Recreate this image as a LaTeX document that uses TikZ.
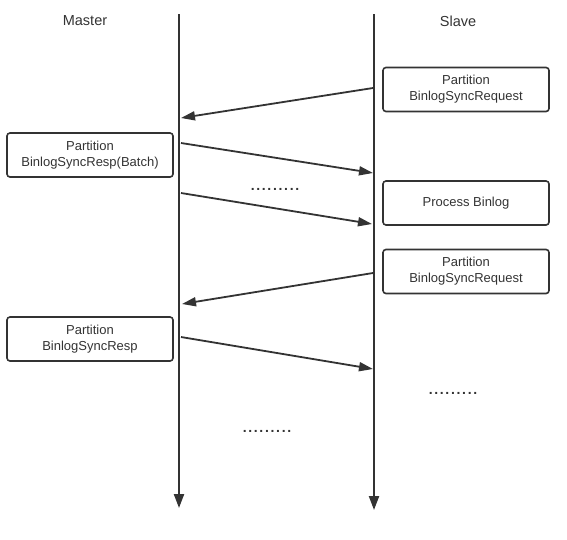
\documentclass[tikz,border=0pt]{standalone}
\usepackage{fontspec}
\setmainfont{Liberation Sans}
\newfontfamily\spacedfont[LetterSpace=12]{Liberation Sans}
\usetikzlibrary{arrows.meta}
\definecolor{ink}{HTML}{333333}

\begin{document}
\begin{tikzpicture}[x=1pt,y=-1pt,
    box/.style={draw=ink,line width=1.6pt,rounded corners=3pt,minimum width=166pt,
      minimum height=44pt,align=center,text=ink,font=\fontsize{13}{16}\selectfont},
    title/.style={text=ink,font=\fontsize{14.5}{17}\selectfont},
    etc/.style={text=ink,font={\fontsize{14}{16}\spacedfont\bfseries}},
    life/.style={draw=ink,line width=2.2pt,-{Triangle[length=14pt,width=10pt]}},
    msg/.style={draw=ink,line width=1.8pt,-{Triangle[length=14pt,width=9pt]}}]
    \useasboundingbox (0,0) rectangle (567,539);
    \node[title] (master) at (85,21) {Master};
    \node[title] (slave) at (458,21) {Slave};
    \coordinate (m-top) at (179,14);
    \coordinate (m-end) at (179,508);
    \coordinate (s-top) at (374,14);
    \coordinate (s-end) at (374,510);
    \draw[life] (m-top) -- (m-end);
    \draw[life] (s-top) -- (s-end);
    \node[box] (req1) at (466,89.5) {Partition\\BinlogSyncRequest};
    \node[box] (resp1) at (90,155) {Partition\\BinlogSyncResp(Batch)};
    \node[box] (proc) at (466,203) {Process Binlog};
    \node[box] (req2) at (466,271.5) {Partition\\BinlogSyncRequest};
    \node[box] (resp2) at (90,339) {Partition\\BinlogSyncResp};
    \node[etc] (etc1) at (275,189) {.........};
    \node[etc] (etc2) at (453,393) {.........};
    \node[etc] (etc3) at (267,431) {.........};
    \coordinate (a1) at (373,88);
    \coordinate (b1) at (181,118);
    \coordinate (a2) at (181,143);
    \coordinate (b2) at (373,173);
    \coordinate (a3) at (181,193);
    \coordinate (b3) at (372,224);
    \coordinate (a4) at (373,273);
    \coordinate (b4) at (182,304);
    \coordinate (a5) at (181,337);
    \coordinate (b5) at (373,369);
    \draw[msg] (a1) -- (b1);
    \draw[msg] (a2) -- (b2);
    \draw[msg] (a3) -- (b3);
    \draw[msg] (a4) -- (b4);
    \draw[msg] (a5) -- (b5);
\end{tikzpicture}
\end{document}
